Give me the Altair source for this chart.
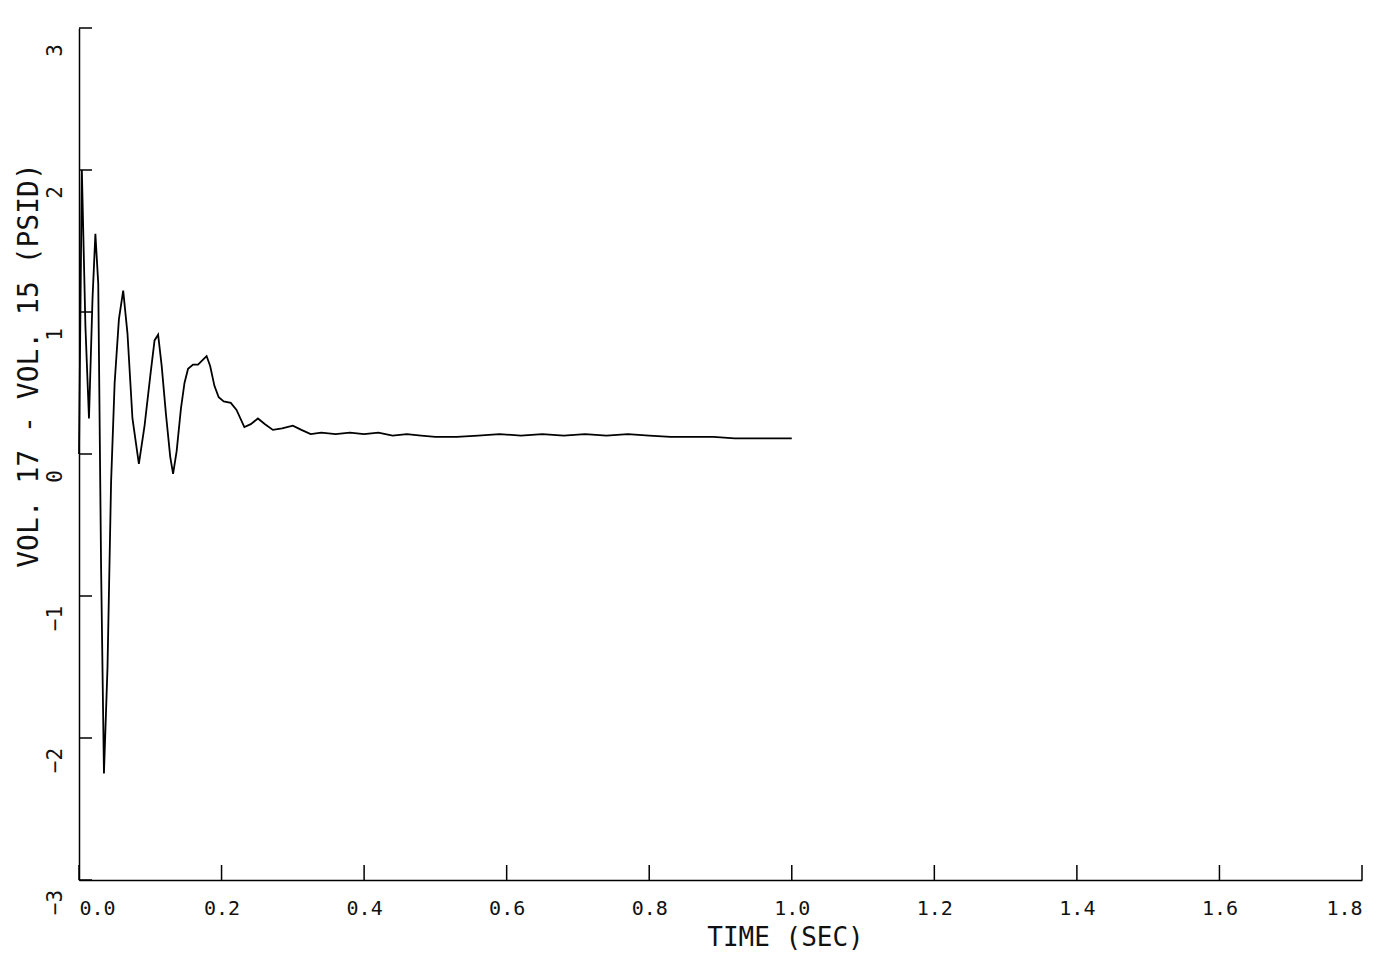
import altair as alt
import pandas as pd

# ---- data ----
time_s = [0.000, 0.004, 0.009, 0.014, 0.019, 0.023, 0.027, 0.031, 0.035, 0.040,
          0.045, 0.050, 0.056, 0.062, 0.068, 0.075, 0.084, 0.092, 0.100, 0.106,
          0.111, 0.116, 0.122, 0.128, 0.132, 0.137, 0.143, 0.148, 0.153, 0.160,
          0.167, 0.173, 0.179, 0.184, 0.190, 0.196, 0.203, 0.213, 0.221, 0.232,
          0.241, 0.251, 0.261, 0.272, 0.285, 0.300, 0.312, 0.325, 0.340, 0.360,
          0.380, 0.400, 0.420, 0.440, 0.460, 0.480, 0.500, 0.530, 0.560, 0.590,
          0.620, 0.650, 0.680, 0.710, 0.740, 0.770, 0.800, 0.830, 0.860, 0.890,
          0.920, 0.950, 0.975, 1.000]
pressure_psid = [0.00, 2.00, 0.90, 0.25, 1.10, 1.55, 1.20, -0.80, -2.25, -1.50,
                 -0.20, 0.50, 0.95, 1.15, 0.85, 0.25, -0.07, 0.20, 0.55, 0.80,
                 0.84, 0.62, 0.28, -0.02, -0.14, 0.02, 0.32, 0.50, 0.60, 0.63,
                 0.63, 0.66, 0.69, 0.62, 0.48, 0.40, 0.37, 0.36, 0.31, 0.19,
                 0.21, 0.25, 0.21, 0.17, 0.18, 0.20, 0.17, 0.14, 0.15, 0.14,
                 0.15, 0.14, 0.15, 0.13, 0.14, 0.13, 0.12, 0.12, 0.13, 0.14,
                 0.13, 0.14, 0.13, 0.14, 0.13, 0.14, 0.13, 0.12, 0.12, 0.12,
                 0.11, 0.11, 0.11, 0.11]
x_ticks = [0.0, 0.2, 0.4, 0.6, 0.8, 1.0, 1.2, 1.4, 1.6, 1.8]
y_ticks = [-3, -2, -1, 0, 1, 2, 3]

W, H = 1283, 852
FONT = "DejaVu Sans Mono"

df = pd.DataFrame({"t": time_s, "v": pressure_psid})
xs = alt.Scale(domain=[0, 1.8], nice=False, zero=False)
ys = alt.Scale(domain=[-3, 3], nice=False, zero=False)

x_axis = alt.Axis(
    values=x_ticks, format=".1f", ticks=False, grid=False,
    domainColor="black", domainWidth=1.5,
    labelFont=FONT, labelFontSize=20, labelColor="#111", labelPadding=18,
    title="TIME (SEC)", titleFont=FONT, titleFontSize=26,
    titleFontWeight="normal", titleColor="#111",
    titleX=706, titleY=57, titleBaseline="middle", titleAlign="center")
y_axis = alt.Axis(
    values=y_ticks, format="d", ticks=False, grid=False,
    domainColor="black", domainWidth=1.5,
    labelFont=FONT, labelFontSize=21, labelColor="#111", labelPadding=14,
    labelAngle=270, labelAlign="center", labelBaseline="bottom", labelOffset=22,
    title="VOL. 17 - VOL. 15  (PSID)", titleFont=FONT, titleFontSize=28,
    titleFontWeight="normal", titleColor="#111", titleAngle=270,
    titleX=-50, titleY=337, titleBaseline="middle", titleAlign="center")

line = alt.Chart(df).mark_line(color="black", strokeWidth=1.8).encode(
    x=alt.X("t:Q", scale=xs, axis=x_axis),
    y=alt.Y("v:Q", scale=ys, axis=y_axis),
)

xt = alt.Chart(pd.DataFrame({"t": x_ticks})).mark_rule(color="black", strokeWidth=1.5).encode(
    x=alt.X("t:Q", scale=xs, axis=x_axis),
    y=alt.value(H), y2=alt.value(H - 15))

yt = alt.Chart(pd.DataFrame({"v": y_ticks})).mark_rule(color="black", strokeWidth=1.5).encode(
    y=alt.Y("v:Q", scale=ys, axis=y_axis),
    x=alt.value(0), x2=alt.value(13))

chart = alt.layer(line, xt, yt).properties(
    width=W, height=H,
    autosize=alt.AutoSizeParams(type="none"),
    padding={"left": 71, "top": 20, "right": 25, "bottom": 74},
    background="white",
).configure_view(stroke=None)

chart.save("out.html", embed_options={"renderer": "svg", "actions": False})
